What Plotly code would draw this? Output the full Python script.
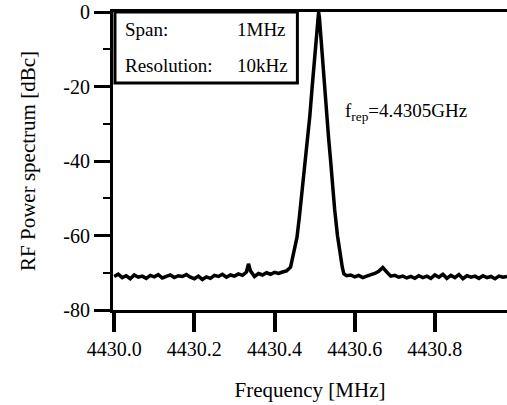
import plotly.graph_objects as go

# spectrum analyser trace
freq_mhz = [
    4430.00, 4430.01, 4430.02, 4430.03, 4430.04, 4430.05, 4430.06, 4430.07, 4430.08, 4430.09,
    4430.10, 4430.11, 4430.12, 4430.13, 4430.14, 4430.15, 4430.16, 4430.17, 4430.18, 4430.19,
    4430.20, 4430.21, 4430.22, 4430.23, 4430.24, 4430.25, 4430.26, 4430.27, 4430.28, 4430.29,
    4430.30, 4430.31, 4430.32, 4430.33, 4430.335, 4430.34, 4430.35, 4430.36, 4430.37, 4430.38,
    4430.39, 4430.40, 4430.41, 4430.42, 4430.43, 4430.44, 4430.445, 4430.448, 4430.452, 4430.456,
    4430.462, 4430.467, 4430.472, 4430.478, 4430.483, 4430.488, 4430.494, 4430.499, 4430.504, 4430.508,
    4430.510, 4430.512, 4430.515, 4430.520, 4430.525, 4430.530, 4430.535, 4430.540, 4430.545, 4430.550,
    4430.557, 4430.561, 4430.565, 4430.569, 4430.573, 4430.58, 4430.59, 4430.60, 4430.61, 4430.62,
    4430.63, 4430.64, 4430.65, 4430.66, 4430.67, 4430.68, 4430.69, 4430.70, 4430.71, 4430.72,
    4430.73, 4430.74, 4430.75, 4430.76, 4430.77, 4430.78, 4430.79, 4430.80, 4430.81, 4430.82,
    4430.83, 4430.84, 4430.85, 4430.86, 4430.87, 4430.88, 4430.89, 4430.90, 4430.91, 4430.92,
    4430.93, 4430.94, 4430.95, 4430.96, 4430.97, 4430.98,
]
power_dbc = [
    -71.0, -70.4, -71.3, -70.8, -71.6, -70.6, -71.2, -70.9, -71.5, -70.7,
    -71.1, -70.5, -71.4, -70.9, -70.6, -71.3, -70.8, -71.0, -70.5, -71.2,
    -71.6, -70.9, -71.8, -71.1, -71.5, -70.7, -71.0, -70.4, -71.2, -70.6,
    -70.9, -70.3, -70.7, -69.8, -67.6, -69.5, -71.0, -70.2, -70.6, -70.0,
    -70.4, -69.9, -70.2, -69.8, -69.5, -68.5, -66.0, -65.0, -62.0, -60.5,
    -55.0, -50.0, -45.0, -40.0, -34.0, -28.0, -20.0, -13.0, -6.0, -1.5,
    0.0, -1.5, -6.0, -14.0, -20.0, -27.0, -34.0, -40.0, -47.0, -53.0,
    -60.0, -63.0, -66.0, -68.5, -70.3, -70.8, -70.6, -71.1, -70.7, -71.3,
    -70.9, -70.6, -70.2, -69.6, -68.6, -69.8, -70.9, -70.7, -71.2, -70.9,
    -71.4, -71.0, -71.5, -70.8, -71.3, -70.9, -71.5, -70.6, -71.2, -70.4,
    -71.5, -70.7, -71.3, -70.5, -71.6, -70.8, -71.2, -70.9, -71.5, -70.8,
    -71.3, -71.0, -71.6, -70.9, -71.2, -71.0,
]

x_ticks = [4430.0, 4430.2, 4430.4, 4430.6, 4430.8]
x_ticklabels = ["4430.0", "4430.2", "4430.4", "4430.6", "4430.8"]
y_ticks = [0, -20, -40, -60, -80]
y_ticklabels = ["0", "-20", "-40", "-60", "-80"]

font = "Liberation Serif, Times New Roman, serif"

fig = go.Figure()
fig.add_trace(go.Scatter(x=freq_mhz, y=power_dbc, mode="lines",
                         line=dict(color="black", width=3.5)))

fig.update_layout(
    width=507, height=405,
    margin=dict(l=113, r=0, t=12, b=95, autoexpand=False),
    plot_bgcolor="white", paper_bgcolor="white",
    showlegend=False,
    font=dict(family=font, size=20, color="black"),
)
fig.update_xaxes(
    range=[4429.997, 4430.98],
    tickvals=x_ticks, ticktext=x_ticklabels,
    ticks="outside", ticklen=19, tickwidth=4, tickcolor="black",
    showline=True, linewidth=3, linecolor="black", mirror=True,
    showgrid=False, zeroline=False, automargin=False,
    title=dict(text="Frequency [MHz]", font=dict(size=21), standoff=24),
)
fig.update_yaxes(
    range=[-80, 0],
    tickvals=y_ticks, ticktext=y_ticklabels,
    ticks="outside", ticklen=16, tickwidth=3, tickcolor="black",
    minor=dict(dtick=10, ticks="outside", ticklen=7, tickwidth=2, tickcolor="black"),
    showline=True, linewidth=3, linecolor="black",
    showgrid=False, zeroline=False, automargin=False,
    ticklabeloverflow="allow",
    title=dict(text="RF Power spectrum [dBc]", font=dict(size=21), standoff=22),
)

# info box in the upper-left corner
fig.add_shape(type="rect", xref="paper", yref="paper",
              x0=0.005, x1=0.468, y0=0.762, y1=1.0,
              line=dict(color="black", width=3), fillcolor="white")
box_text = [("Span:", 0.025, 0.94, "left"), ("1MHz", 0.445, 0.94, "right"),
            ("Resolution:", 0.025, 0.819, "left"), ("10kHz", 0.449, 0.819, "right")]
for txt, bx, by, anchor in box_text:
    fig.add_annotation(xref="paper", yref="paper", x=bx, y=by, text=txt,
                       showarrow=False, xanchor=anchor, yanchor="middle",
                       font=dict(size=19))
fig.add_annotation(xref="paper", yref="paper", x=0.584, y=0.664,
                   text="f<sub>rep</sub>=4.4305GHz",
                   showarrow=False, xanchor="left", yanchor="middle",
                   font=dict(size=19))

# drop the default 8px page margin so the figure sits at the window corner
fig.write_html("out.html", config={"displayModeBar": False},
               post_script="document.body.style.margin = '0';")
